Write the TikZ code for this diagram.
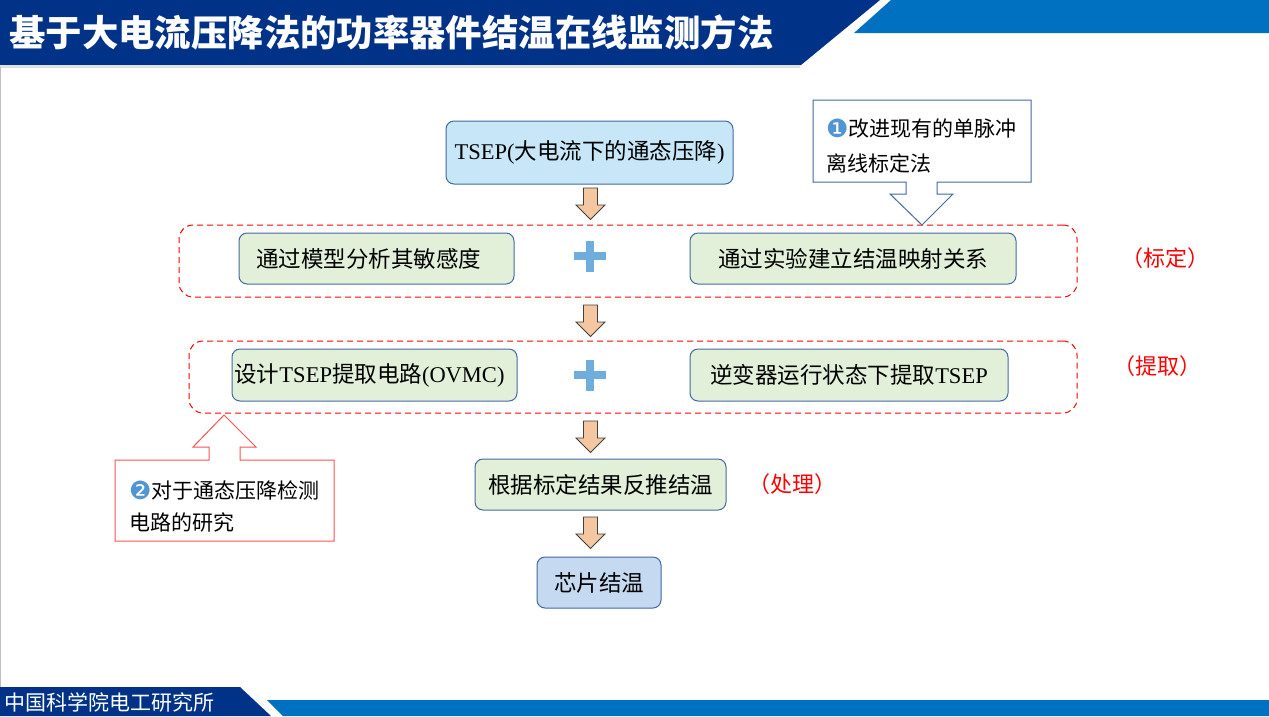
\documentclass[tikz,border=0pt]{standalone}
\usepackage{fontspec}
\setmainfont{Liberation Serif}
\newfontfamily\cjk{Noto Sans CJK SC}
\newfontfamily\dejavu{DejaVu Sans}
\usetikzlibrary{calc}
\definecolor{titleblue}{RGB}{0,50,135}
\definecolor{bandblue}{RGB}{0,112,192}
\definecolor{boxline}{RGB}{68,104,160}
\definecolor{tsepfill}{RGB}{199,231,249}
\definecolor{greenfill}{RGB}{226,240,217}
\definecolor{chipfill}{RGB}{197,217,241}
\definecolor{plusblue}{RGB}{111,174,220}
\definecolor{arrfill}{RGB}{244,199,160}
\definecolor{callred}{RGB}{255,80,80}
\definecolor{numblue}{RGB}{80,150,210}
\newcommand\cnum[1]{{\dejavu\fontsize{25}{25}\selectfont\color{numblue}\raisebox{-1pt}{#1}}}
\begin{document}
\begin{tikzpicture}[x=1pt,y=-1pt,
  flowbox/.style={draw=boxline,line width=1pt,rounded corners=8pt,inner sep=0pt,font=\fontsize{22.5}{26}\selectfont,text=black},
  dashbox/.style={draw=red,line width=1pt,dash pattern=on 6pt off 4pt,rounded corners=14pt,inner sep=0pt},
  redlabel/.style={text=red,font=\cjk\fontsize{22}{26}\selectfont,inner sep=0pt},
  calltext/.style={font=\cjk\fontsize{21}{24}\selectfont,anchor=west,inner sep=0pt},
  darrow/.style={draw=black!75,fill=arrfill,line width=0.8pt,line join=miter},
  plussign/.style={draw=plusblue,line width=7.5pt}
]
\useasboundingbox (0,0) rectangle (1269,716);
\fill[white] (0,0) rectangle (1269,716);
% header
\fill[titleblue] (0,0) -- (880,0) -- (801,65) -- (0,65) -- cycle;
\fill[bandblue] (891,0) -- (1269,0) -- (1269,33) -- (854,33) -- cycle;
\draw[black!12,line width=2pt] (0,67) -- (800,67);
\draw[black!25,line width=1pt] (0.5,67) -- (0.5,687);
\node[anchor=west,text=white,font=\cjk\bfseries\fontsize{36.4}{40}\selectfont,inner sep=0pt] (title) at (9,32) {基于大电流压降法的功率器件结温在线监测方法};
% footer
\fill[titleblue] (0,687) -- (240,687) -- (271,716) -- (0,716) -- cycle;
\fill[bandblue] (267,700) -- (1269,700) -- (1269,716) -- (283,716) -- cycle;
\node[anchor=west,text=white,font=\cjk\fontsize{21}{24}\selectfont,inner sep=0pt] (inst) at (4,702) {中国科学院电工研究所};
% dashed groups
\node[dashbox,minimum width=898pt,minimum height=72pt] (g1) at (628,261) {};
\node[dashbox,minimum width=888pt,minimum height=72pt] (g2) at (633,377) {};
% boxes
\node[flowbox,fill=tsepfill,minimum width=287pt,minimum height=63pt] (tsep) at (589.5,152.5) {TSEP({\cjk 大电流下的通态压降})};
\node[flowbox,fill=greenfill,minimum width=275pt,minimum height=51pt] (m1) at (376.5,258.5) {{\cjk 通过模型分析其敏感度}\hspace*{16pt}};
\node[flowbox,fill=greenfill,minimum width=326pt,minimum height=51pt] (m2) at (853,258.5) {\cjk 通过实验建立结温映射关系};
\node[flowbox,fill=greenfill,minimum width=285pt,minimum height=52pt] (e1) at (374.5,375) {{\cjk 设计}TSEP{\cjk 提取电路}(OVMC)\hspace*{10pt}};
\node[flowbox,fill=greenfill,minimum width=318pt,minimum height=52pt] (e2) at (849,375) {{\cjk 逆变器运行状态下提取}TSEP};
\node[flowbox,fill=greenfill,minimum width=251pt,minimum height=51pt] (proc) at (600.5,484.5) {\cjk 根据标定结果反推结温};
\node[flowbox,fill=chipfill,minimum width=124pt,minimum height=51pt] (chip) at (599,582.5) {\cjk 芯片结温};
% red labels
\node[redlabel] (l1) at (1165,258) {（标定）};
\node[redlabel] (l2) at (1157,366) {（提取）};
\node[redlabel] (l3) at (792,484) {（处理）};
% plus signs
\coordinate (plus1) at (590,256);
\coordinate (plus2) at (590,375);
\draw[plussign] ($(plus1)+(-16,0)$) -- ($(plus1)+(16,0)$) ($(plus1)+(0,-15.5)$) -- ($(plus1)+(0,15.5)$);
\draw[plussign] ($(plus2)+(-16,0)$) -- ($(plus2)+(16,0)$) ($(plus2)+(0,-15.5)$) -- ($(plus2)+(0,15.5)$);
% block arrows (top-centre coordinates)
\coordinate (a1) at (590.5,188);
\coordinate (a2) at (590.5,305);
\coordinate (a3) at (590.5,421);
\coordinate (a4) at (590.5,517);
\foreach \a in {a1,a2,a3,a4}{
  \draw[darrow] (\a) ++(-7,0) -- ++(0,17) -- ++(-7.5,0) -- ++(14.5,14.5) -- ++(14.5,-14.5) -- ++(-7.5,0) -- ++(0,-17) -- cycle;
}
% callout 1
\draw[boxline,line width=1pt,fill=white,line join=miter] (813,100) -- (1031,100) -- (1031,182) -- (937,182) -- (937,194) -- (953,194) -- (922,225) -- (890,194) -- (906,194) -- (906,182) -- (813,182) -- cycle;
\node[calltext] (c1a) at (826,129) {\cnum{❶}改进现有的单脉冲};
\node[calltext] (c1b) at (826,163) {离线标定法};
% callout 2
\draw[callred,line width=1pt,fill=white,line join=miter] (115,460) -- (209,460) -- (209,447) -- (193,447) -- (224,415) -- (256,447) -- (240,447) -- (240,460) -- (334,460) -- (334,541) -- (115,541) -- cycle;
\node[calltext] (c2a) at (129,490) {\cnum{❷}对于通态压降检测};
\node[calltext] (c2b) at (129,522) {电路的研究};
\end{tikzpicture}
\end{document}
